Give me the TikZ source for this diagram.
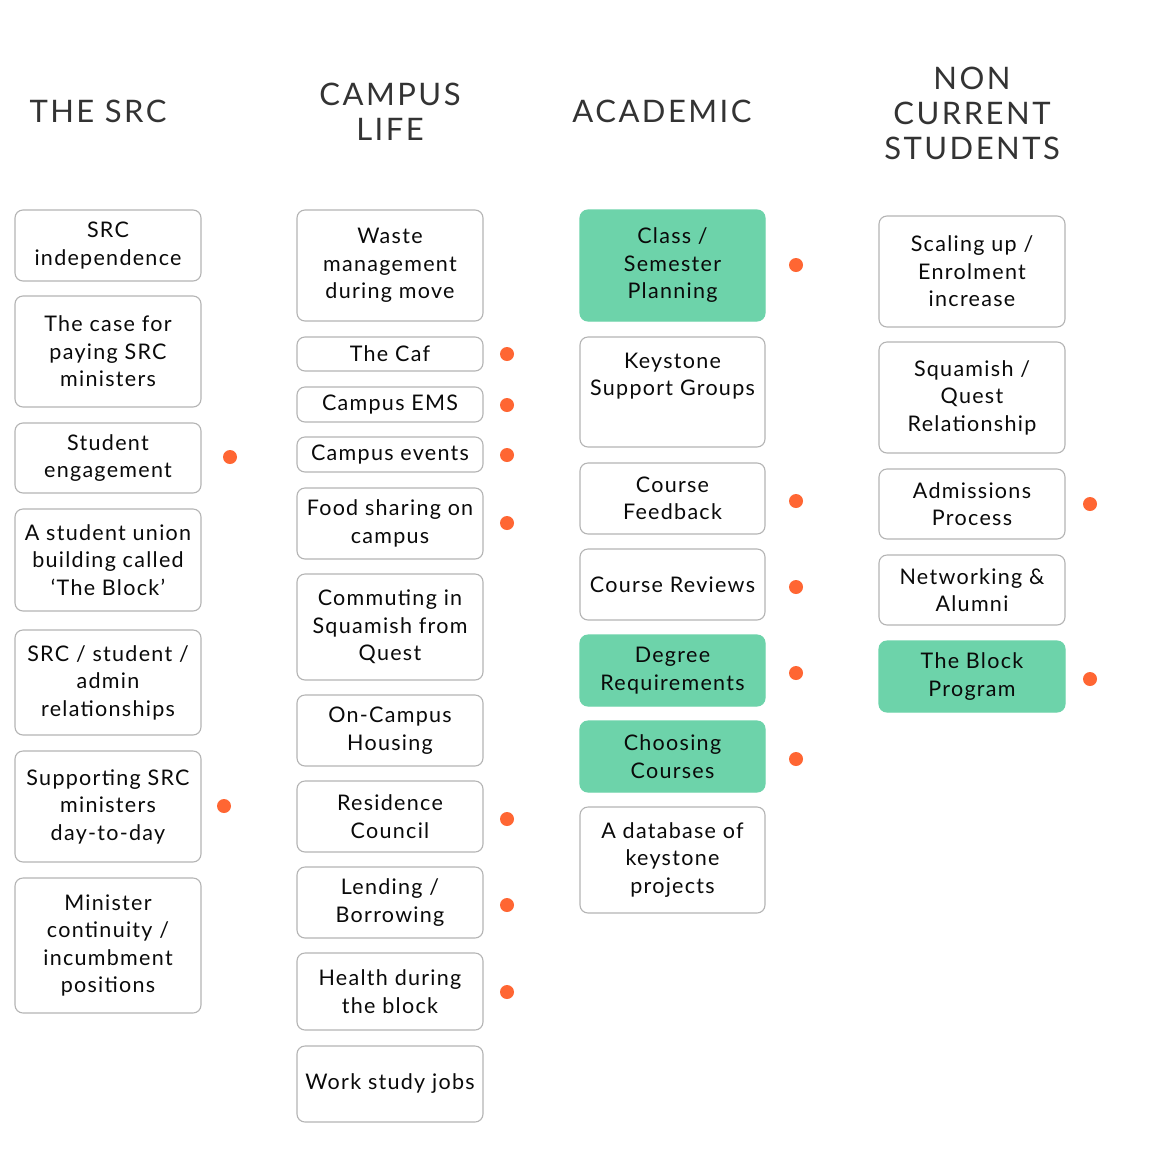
\documentclass[tikz,border=0pt]{standalone}
\usepackage{fontspec}
\setmainfont{Lato}
\newfontfamily\boxfont[LetterSpace=6]{Lato}
\newfontfamily\headfont[LetterSpace=8]{Lato}
\definecolor{boxline}{HTML}{B4B4B4}
\definecolor{greenfill}{HTML}{6DD3AA}
\definecolor{dotcol}{HTML}{FF6633}
\definecolor{headcol}{HTML}{333333}
\definecolor{txt}{HTML}{0A0A0A}
\tikzset{
  plainbox/.style={draw=boxline, line width=1.1pt, rounded corners=8pt, fill=white, inner sep=0pt, align=center, text=txt, font=\boxfont\fontsize{21.5}{27.5}\selectfont},
  greenbox/.style={plainbox, draw=greenfill, fill=greenfill},
  dotn/.style={circle, fill=dotcol, inner sep=0pt, minimum size=14pt},
  head/.style={align=center, text=headcol, font=\headfont\fontsize{31}{35}\selectfont, inner sep=0pt}
}
\newcommand\bx[7]{%
  \pgfmathsetmacro\cx{(#2+#4)/2}\pgfmathsetmacro\cy{(#3+#5)/2}%
  \pgfmathsetmacro\bw{#4-#2}\pgfmathsetmacro\bh{#5-#3}%
  \node[#6, minimum width=\bw pt, minimum height=\bh pt] (#1) at (\cx,\cy) {#7};}
\begin{document}
\begin{tikzpicture}[x=1pt,y=-1pt]
\useasboundingbox[fill=white] (0,0) rectangle (1153,1176);
% headers
\node[head] (h1) at (98,111) {THE SRC};
\node[head] (h2) at (390,112) {CAMPUS\\LIFE};
\node[head] (h3) at (662,111) {ACADEMIC};
\node[head] (h4) at (972,113) {NON\\CURRENT\\STUDENTS};
% column 1
\bx{a1}{15}{210}{201}{281}{plainbox}{SRC\\independence}
\bx{a2}{15}{296}{201}{407}{plainbox}{The case for\\paying SRC\\ministers}
\bx{a3}{15}{423}{201}{493}{plainbox}{Student\\engagement}
\bx{a4}{15}{509}{201}{611}{plainbox}{A student union\\building called\\‘The Block’}
\bx{a5}{15}{630}{201}{735}{plainbox}{SRC / student /\\admin\\relationships}
\bx{a6}{15}{751}{201}{862}{plainbox}{Supporting SRC\\ministers\\day-to-day}
\bx{a7}{15}{878}{201}{1013}{plainbox}{Minister\\continuity /\\incumbment\\positions}
% column 2
\bx{b1}{297}{210}{483}{321}{plainbox}{Waste\\management\\during move}
\bx{b2}{297}{337}{483}{371}{plainbox}{The Caf}
\bx{b3}{297}{387}{483}{422}{plainbox}{Campus EMS}
\bx{b4}{297}{437}{483}{472}{plainbox}{Campus events}
\bx{b5}{297}{488}{483}{559}{plainbox}{Food sharing on\\campus}
\bx{b6}{297}{574}{483}{680}{plainbox}{Commuting in\\Squamish from\\Quest}
\bx{b7}{297}{695}{483}{766}{plainbox}{On-Campus\\Housing}
\bx{b8}{297}{781}{483}{852}{plainbox}{Residence\\Council}
\bx{b9}{297}{867}{483}{938}{plainbox}{Lending /\\Borrowing}
\bx{b10}{297}{953}{483}{1030}{plainbox}{Health during\\the block}
\bx{b11}{297}{1046}{483}{1122}{plainbox}{Work study jobs}
% column 3
\bx{c1}{580}{210}{765}{321}{greenbox}{Class /\\Semester\\Planning}
\bx{c2}{580}{337}{765}{447}{plainbox}{Keystone\\Support Groups\\\strut}
\bx{c3}{580}{463}{765}{534}{plainbox}{Course\\Feedback}
\bx{c4}{580}{549}{765}{620}{plainbox}{Course Reviews}
\bx{c5}{580}{635}{765}{706}{greenbox}{Degree\\Requirements}
\bx{c6}{580}{721}{765}{792}{greenbox}{Choosing\\Courses}
\bx{c7}{580}{807}{765}{913}{plainbox}{A database of\\keystone\\projects}
% column 4
\bx{e1}{879}{216}{1065}{327}{plainbox}{Scaling up /\\Enrolment\\increase}
\bx{e2}{879}{342}{1065}{453}{plainbox}{Squamish /\\Quest\\Relationship}
\bx{e3}{879}{469}{1065}{539}{plainbox}{Admissions\\Process}
\bx{e4}{879}{555}{1065}{625}{plainbox}{Networking \&\\Alumni}
\bx{e5}{879}{641}{1065}{712}{greenbox}{The Block\\Program}
% dots
\node[dotn] (da3) at (230,457) {};
\node[dotn] (da6) at (224,806) {};
\node[dotn] (db2) at (507,354) {};
\node[dotn] (db3) at (507,405) {};
\node[dotn] (db4) at (507,455) {};
\node[dotn] (db5) at (507,523) {};
\node[dotn] (db8) at (507,819) {};
\node[dotn] (db9) at (507,905) {};
\node[dotn] (db10) at (507,992) {};
\node[dotn] (dc1) at (796,265) {};
\node[dotn] (dc3) at (796,501) {};
\node[dotn] (dc4) at (796,587) {};
\node[dotn] (dc5) at (796,673) {};
\node[dotn] (dc6) at (796,759) {};
\node[dotn] (de3) at (1090,504) {};
\node[dotn] (de5) at (1090,679) {};
\end{tikzpicture}
\end{document}
